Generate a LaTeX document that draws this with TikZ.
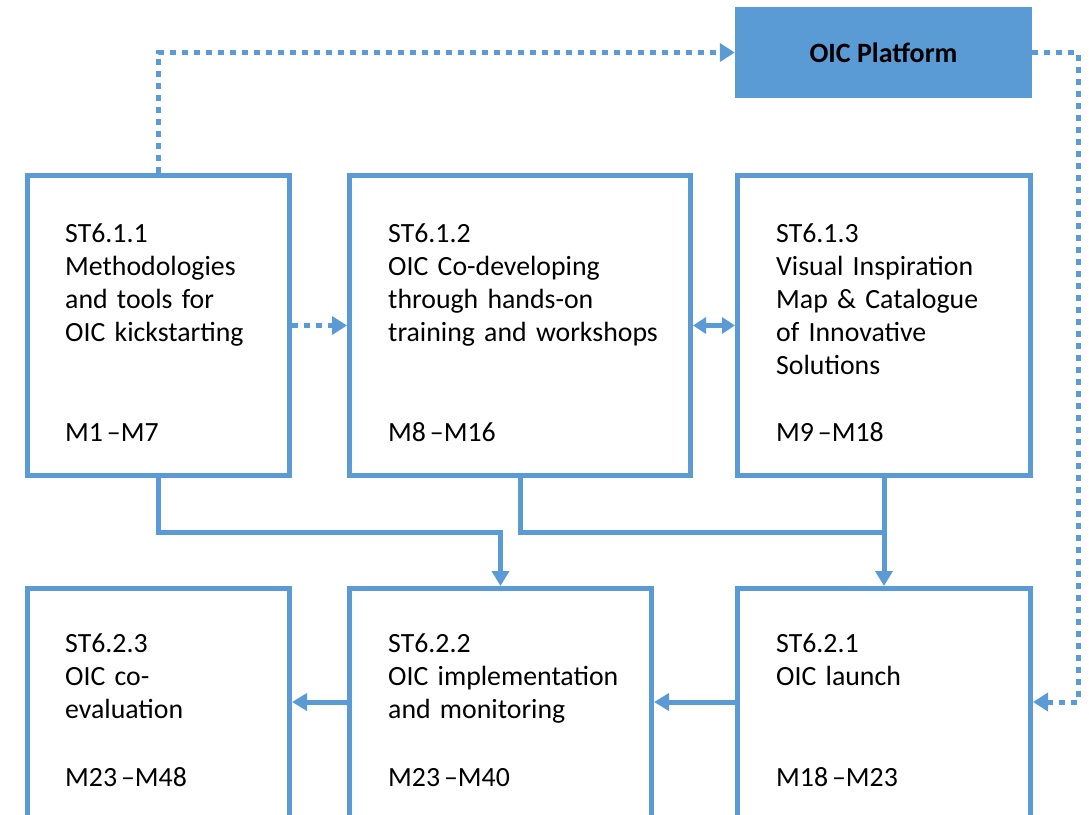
\documentclass[tikz,border=0pt]{standalone}
\usepackage{fontspec}
\setmainfont{Carlito}
\usetikzlibrary{arrows.meta}
\definecolor{oicblue}{HTML}{5B9BD5}

\begin{document}
\begin{tikzpicture}[x=1pt,y=-1pt,
  taskbox/.style={draw=oicblue, line width=5pt, rectangle, inner sep=0pt, anchor=north west},
  platbox/.style={fill=oicblue, draw=none, rectangle, inner sep=0pt,
    minimum width=297pt, minimum height=91pt, font=\fontsize{28}{31}\selectfont\bfseries},
  txt/.style={inner sep=0pt, anchor=base west, align=left, text width=290pt,
    font=\fontsize{27.8}{33.2}\selectfont},
  conn/.style={draw=oicblue, line width=5pt, line join=miter,
    -{Triangle[length=15pt,width=17pt]}},
  connline/.style={draw=oicblue, line width=5pt, line join=miter},
  dotline/.style={draw=oicblue, line width=5pt, dash pattern=on 6pt off 6pt},
  dotarrow/.style={dotline, -{Triangle[length=15pt,width=18pt]}},
  twoway/.style={draw=oicblue, line width=5pt,
    {Triangle[length=13pt,width=16pt]}-{Triangle[length=13pt,width=16pt]}}
]
\useasboundingbox (0,0) rectangle (1089,814);
\clip (0,0) rectangle (1089,814);

% helper levels for the connector bus and the lower arrow row
\coordinate (bus) at (0,532);
\coordinate (row) at (0,702);
\coordinate (rail) at (1078,0);

% platform
\node[platbox] (plat) at (883.5,52.5) {OIC Platform};

% first row of sub-tasks (positions give the outer edge of the frame)
\node[taskbox, minimum width=262pt, minimum height=300pt] (t611) at (25,173) {};
\node[taskbox, minimum width=341pt, minimum height=300pt] (t612) at (347,173) {};
\node[taskbox, minimum width=293pt, minimum height=300pt] (t613) at (735,173) {};

% second row of sub-tasks (running off the bottom edge)
\node[taskbox, minimum width=262pt, minimum height=260pt] (t623) at (25,586) {};
\node[taskbox, minimum width=302pt, minimum height=260pt] (t622) at (347,586) {};
\node[taskbox, minimum width=293pt, minimum height=260pt] (t621) at (735,586) {};

% box texts
\node[txt] (t611text) at (65,242) {ST6.1.1\\Methodologies\\and tools for\\OIC kickstarting};
\node[txt] (t611time) at (65,441) {M1\hspace{0.14em}--M7};
\node[txt] (t612text) at (388,242) {ST6.1.2\\OIC Co-developing\\through hands-on\\training and workshops};
\node[txt] (t612time) at (388,441) {M8\hspace{0.14em}--M16};
\node[txt] (t613text) at (776,242) {ST6.1.3\\Visual Inspiration\\Map \& Catalogue\\of Innovative\\Solutions};
\node[txt] (t613time) at (776,441) {M9\hspace{0.14em}--M18};

\node[txt] (t623text) at (65,652) {ST6.2.3\\OIC co-\\evaluation};
\node[txt] (t623time) at (65,786) {M23\hspace{0.14em}--M48};
\node[txt] (t622text) at (388,652) {ST6.2.2\\OIC implementation\\and monitoring};
\node[txt] (t622time) at (388,786) {M23\hspace{0.14em}--M40};
\node[txt] (t621text) at (776,652) {ST6.2.1\\OIC launch};
\node[txt] (t621time) at (776,786) {M18\hspace{0.14em}--M23};

% dotted links through the platform
\draw[dotarrow] (t611.north) |- (plat.west);
\draw[dotarrow] (plat.east) -- (plat.east -| rail) -- (rail |- row) -- (t621.east |- row);
\draw[dotarrow] (t611.east) -- (t612.west);

% two-way link
\draw[twoway] (t612.east) -- (t613.west);

% solid flow into the second row
\draw[conn] (t611.south) -- (t611.south |- bus) -- (t622.north |- bus) -- (t622.north);
\draw[connline] (t612.south) -- (t612.south |- bus) -- (t613.south |- bus);
\draw[conn] (t613.south) -- (t621.north);

% right-to-left flow along the second row
\draw[conn] (t621.west |- row) -- (t622.east |- row);
\draw[conn] (t622.west |- row) -- (t623.east |- row);
\end{tikzpicture}
\end{document}
